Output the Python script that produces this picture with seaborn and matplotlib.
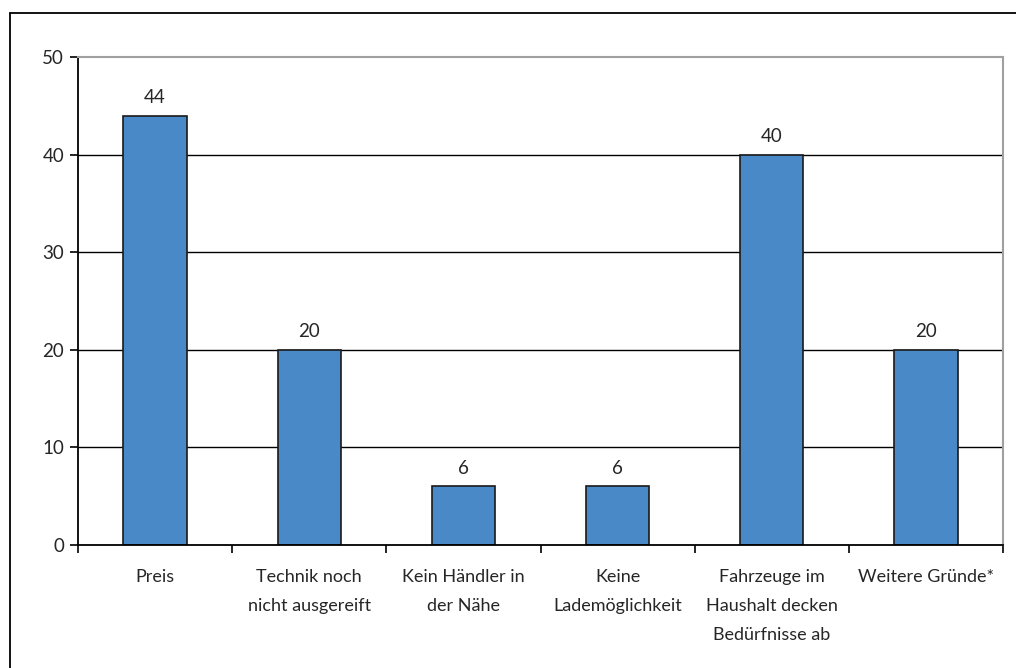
import matplotlib
matplotlib.use("Agg")
import matplotlib.pyplot as plt
import seaborn as sns
import pandas as pd
import numpy as np
from matplotlib.lines import Line2D

categories = ["Preis", "Technik noch\nnicht ausgereift", "Kein Händler in\nder Nähe",
              "Keine\nLademöglichkeit", "Fahrzeuge im\nHaushalt decken\nBedürfnisse ab",
              "Weitere Gründe*"]
values = [44, 20, 6, 6, 40, 20]
yticks = [0, 10, 20, 30, 40, 50]

sns.set_theme(style="white")
plt.rcParams['font.family'] = ['Lato', 'DejaVu Sans']

df = pd.DataFrame({"cat": categories, "val": values})

fig = plt.figure(figsize=(10.16, 6.68), dpi=100)
W, H = 1016, 668
ax = fig.add_axes([78 / W, 1 - 545 / H, (1003 - 78) / W, (545 - 57) / H])

sns.barplot(data=df, x="cat", y="val", color="#4A89C8", saturation=1, width=0.41,
            edgecolor="#1a1a1a", linewidth=1.2, ax=ax, zorder=3)

ax.set_ylim(0, 50)
ax.set_xlim(-0.5, len(categories) - 0.5)
ax.set_yticks(yticks)
ax.set_xlabel("")
ax.set_ylabel("")

for t in yticks[1:-1]:
    ax.axhline(t, color="black", linewidth=1.0, zorder=1)

for s in ["top", "right"]:
    ax.spines[s].set_color("#a0a0a0")
    ax.spines[s].set_linewidth(1.5)
for s in ["left", "bottom"]:
    ax.spines[s].set_color("black")
    ax.spines[s].set_linewidth(1.3)
ax.spines["bottom"].set_zorder(4)

ax.tick_params(axis="y", direction="out", length=6, width=1.2, color="black",
               labelsize=13.5, pad=4, left=True)
ax.tick_params(axis="x", which="major", length=0, labelsize=13, pad=17)
ax.set_xticks(np.arange(-0.5, len(categories), 1.0), minor=True)
ax.tick_params(axis="x", which="minor", direction="out", length=6, width=1.2,
               color="black", bottom=True)
for lbl in ax.get_xticklabels():
    lbl.set_linespacing(2.0)
    lbl.set_verticalalignment("top")

for c in ax.containers:
    ax.bar_label(c, labels=[str(v) for v in values], padding=7, fontsize=13.5)

fig.add_artist(Line2D([9.5 / W, 9.5 / W], [0, 1 - 13 / H], color="black", linewidth=1.3,
                      transform=fig.transFigure))
fig.add_artist(Line2D([9.5 / W, 1], [1 - 13 / H, 1 - 13 / H], color="black", linewidth=1.3,
                      transform=fig.transFigure))

fig.savefig("out.png", dpi=100)
